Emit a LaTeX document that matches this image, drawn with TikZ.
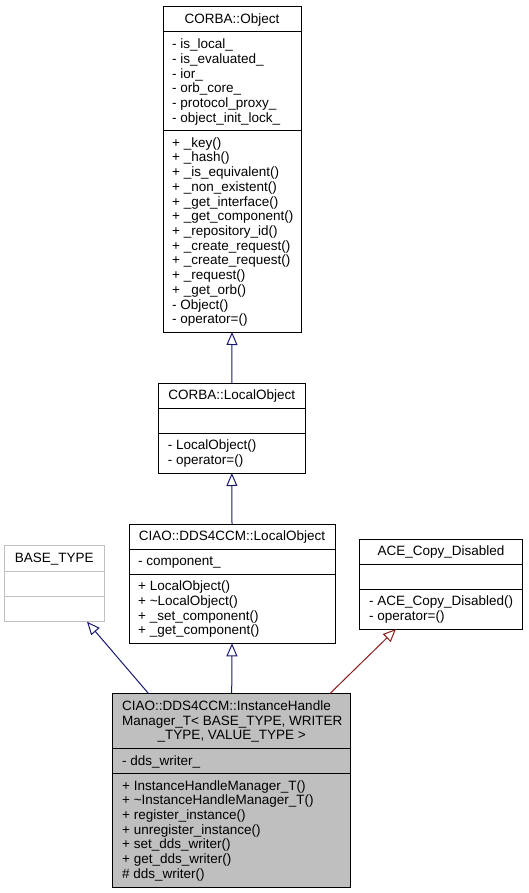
\documentclass[tikz,border=0pt]{standalone}
\usepackage{fontspec}
\setmainfont{Liberation Sans}
\usetikzlibrary{arrows.meta}
\definecolor{edgeblue}{HTML}{191970}
\definecolor{edgered}{HTML}{8B1A1A}
\definecolor{boxgray}{HTML}{BFBFBF}
\begin{document}
\begin{tikzpicture}[x=1pt,y=-1pt,
  font=\fontsize{13.5}{14.7}\selectfont,
  cls/.style={draw=black, line width=1pt, fill=white, anchor=north west, inner sep=0pt, outer sep=0pt},
  sepline/.style={draw=black, line width=1pt},
  lbl/.style={anchor=base west, inner sep=0pt},
  ttl/.style={anchor=base, inner sep=0pt},
  inh/.style={draw=edgeblue, line width=1pt, -{Triangle[open, length=13pt, width=11pt]}},
  inhp/.style={inh, draw=edgered}]
\useasboundingbox (0,0) rectangle (528,893);

% ---------- CORBA::Object ----------
\node[cls, minimum width=138pt, minimum height=325pt] (obj) at (163,7) {};
\draw[sepline] (163,32) -- (301,32);
\draw[sepline] (163,130.5) -- (301,130.5);
\node[ttl] (objt) at (232,23.8) {CORBA::Object};
\foreach \t [count=\i from 0] in {{- is\_local\_},{- is\_evaluated\_},{- ior\_},{- orb\_core\_},{- protocol\_proxy\_},{- object\_init\_lock\_}}
  \node[lbl] (oa\i) at (172,{48.8+14.7*\i}) {\t};
\foreach \t [count=\i from 0] in {{+ \_key()},{+ \_hash()},{+ \_is\_equivalent()},{+ \_non\_existent()},{+ \_get\_interface()},{+ \_get\_component()},{+ \_repository\_id()},{+ \_create\_request()},{+ \_create\_request()},{+ \_request()},{+ \_get\_orb()},{- Object()},{- operator=()}}
  \node[lbl] (om\i) at (172,{147.3+14.7*\i}) {\t};

% ---------- CORBA::LocalObject ----------
\node[cls, minimum width=146.3pt, minimum height=90pt] (lo) at (158.7,383) {};
\draw[sepline] (158.7,408) -- (305,408);
\draw[sepline] (158.7,433) -- (305,433);
\node[ttl] (lot) at (231.85,399.8) {CORBA::LocalObject};
\foreach \t [count=\i from 0] in {{- LocalObject()},{- operator=()}}
  \node[lbl] (lom\i) at (167.7,{449.8+14.7*\i}) {\t};

% ---------- CIAO::DDS4CCM::LocalObject ----------
\node[cls, minimum width=206pt, minimum height=119.3pt] (clo) at (129,524) {};
\draw[sepline] (129,549) -- (335,549);
\draw[sepline] (129,574) -- (335,574);
\node[ttl] (clot) at (232,540.8) {CIAO::DDS4CCM::LocalObject};
\node[lbl] (cloa0) at (138,565.8) {- component\_};
\foreach \t [count=\i from 0] in {{+ LocalObject()},{+ \textasciitilde LocalObject()},{+ \_set\_component()},{+ \_get\_component()}}
  \node[lbl] (clom\i) at (138,{590.8+14.7*\i}) {\t};

% ---------- ACE_Copy_Disabled ----------
\node[cls, minimum width=163pt, minimum height=90pt] (ace) at (359.5,539) {};
\draw[sepline] (359.5,564) -- (522.5,564);
\draw[sepline] (359.5,589) -- (522.5,589);
\node[ttl] (acet) at (441,555.8) {ACE\_Copy\_Disabled};
\foreach \t [count=\i from 0] in {{- ACE\_Copy\_Disabled()},{- operator=()}}
  \node[lbl] (acem\i) at (369,{605.8+14.7*\i}) {\t};

% ---------- BASE_TYPE ----------
\node[cls, draw=boxgray, minimum width=100pt, minimum height=76pt] (base) at (4.3,545.7) {};
\draw[sepline, draw=boxgray] (4.3,571) -- (104.3,571);
\draw[sepline, draw=boxgray] (4.3,596) -- (104.3,596);
\node[ttl] (baset) at (54.3,562.5) {BASE\_TYPE};

% ---------- InstanceHandleManager_T ----------
\node[cls, fill=boxgray, minimum width=238pt, minimum height=193.8pt] (inst) at (112.7,693.5) {};
\draw[sepline] (112.7,748.3) -- (350.7,748.3);
\draw[sepline] (112.7,773.3) -- (350.7,773.3);
\node[lbl] (instt0) at (122,710.3) {CIAO::DDS4CCM::InstanceHandle};
\node[lbl] (instt1) at (122,725.0) {Manager\_T< BASE\_TYPE, WRITER};
\node[ttl] (instt2) at (231.7,739.7) {\_TYPE, VALUE\_TYPE >};
\node[lbl] (insta0) at (122,765.1) {- dds\_writer\_};
\foreach \t [count=\i from 0] in {{+ InstanceHandleManager\_T()},{+ \textasciitilde InstanceHandleManager\_T()},{+ register\_instance()},{+ unregister\_instance()},{+ set\_dds\_writer()},{+ get\_dds\_writer()},{\# dds\_writer()}}
  \node[lbl] (instm\i) at (122,{790.1+14.7*\i}) {\t};

% ---------- connectors ----------
\coordinate (instL) at (148.5,693.5);
\coordinate (instR) at (330,693.5);
\coordinate (baseB) at (87,621.7);
\coordinate (aceB) at (396,629);
\draw[inh] (lo.north) -- (obj.south);
\draw[inh] (clo.north) -- (lo.south);
\draw[inh] (inst.north) -- (clo.south);
\draw[inh] (instL) -- (baseB);
\draw[inhp] (instR) -- (aceB);
\end{tikzpicture}
\end{document}
